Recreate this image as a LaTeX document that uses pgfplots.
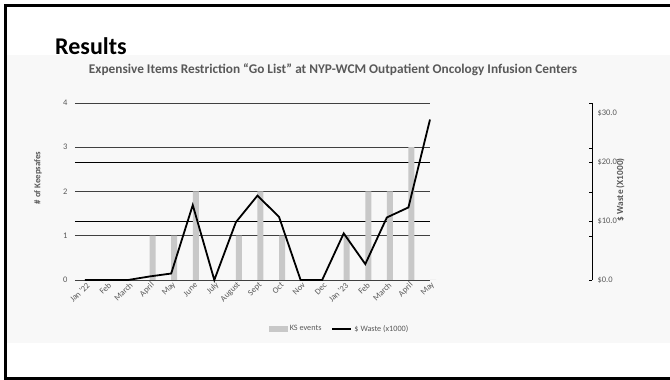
\documentclass[border=0pt]{standalone}
\usepackage{pgfplots}
\pgfplotsset{compat=1.18}
\usepackage{fontspec}
\setmainfont{Carlito}
\definecolor{barc}{HTML}{C8C8C8}
\definecolor{txt}{HTML}{595959}
\definecolor{grd}{HTML}{404040}
\definecolor{bgc}{HTML}{F8F8F8}
\begin{document}
\begin{tikzpicture}
\useasboundingbox (0pt,0pt) rectangle (670pt,380pt);
\fill[white] (0pt,0pt) rectangle (670pt,380pt);
\fill[bgc] (7pt,37pt) rectangle (670pt,325pt);
\draw[black, line width=3pt] (5.5pt,0pt) -- (5.5pt,374.5pt) -- (670pt,374.5pt);
\draw[black, line width=3pt] (4pt,1.5pt) -- (670pt,1.5pt);
\node[anchor=base west, font=\fontsize{24}{24}\selectfont\bfseries, inner sep=0pt] at (55pt,325pt) {Results};
\node[font=\fontsize{13.3}{14}\selectfont\bfseries, text=txt] at (333pt,310pt) {Expensive Items Restriction “Go List” at NYP-WCM Outpatient Oncology Infusion Centers};

\begin{axis}[at={(75pt,100pt)}, anchor=south west, scale only axis,
  width=355pt, height=177pt,
  xmin=-0.46, xmax=16, ymin=0, ymax=4,
  axis line style={draw=none},
  major tick length=0pt,
  xtick={0,...,16},
  xticklabels={Jan '22,Feb,March,April,May,June,July,August,Sept,Oct,Nov,Dec,Jan '23,Feb,March,April,May},
  xticklabel style={rotate=45, anchor=east, font=\fontsize{8.5}{9}\selectfont, text=txt, xshift=3pt, yshift=-5pt},
  ytick={0,1,2,3,4}, yticklabels={0,1,2,3,4},
  yticklabel style={font=\fontsize{8.5}{9}\selectfont, text=txt, xshift=-4pt},
  ymajorgrids, grid style={grd, line width=0.9pt},
  extra y ticks={1.33333,2.66667}, extra y tick labels={},
  extra y tick style={ymajorgrids=true, grid style={black, line width=0.8pt}},
  ylabel={\# of Keepsafes},
  ylabel style={at={(axis description cs:-0.104,0.576)}, anchor=center, rotate=0, font=\fontsize{8.8}{9}\selectfont\bfseries, text=txt},
  clip=false,
]
\addplot[ybar, bar width=6pt, bar shift=3pt, fill=barc, draw=none] coordinates {
(0,0) (1,0) (2,0) (3,1) (4,1) (5,2) (6,0) (7,1) (8,2) (9,1) (10,0) (11,0) (12,1) (13,2) (14,2) (15,3) (16,0)};
\end{axis}

\begin{axis}[at={(75pt,100pt)}, anchor=south west, scale only axis,
  width=355pt, height=177pt,
  xmin=-0.46, xmax=16, ymin=0, ymax=30,
  hide axis, clip=false,
  legend columns=2,
  legend style={at={(0.746,-0.277)}, anchor=center, draw=none, fill=none,
    font=\fontsize{8.2}{9}\selectfont, text=txt,
    /tikz/every even column/.append style={column sep=8pt}},
]
\addlegendimage{legend image code/.code={\fill[barc] (0pt,-2.5pt) rectangle (18pt,2.5pt);}}
\addlegendentry{KS events}
\addplot[black, line width=1.8pt, legend image code/.code={\draw[black, line width=2pt] (0pt,0pt) -- (19pt,0pt);}] coordinates {
(0,0) (1,0) (2,0) (3,0.6) (4,1.1) (5,12.7) (6,0) (7,9.8) (8,14.3) (9,10.7) (10,0) (11,0) (12,7.9) (13,2.7) (14,10.6) (15,12.3) (16,27.2)};
\addlegendentry{\$ Waste (x1000)}
\end{axis}

\begin{axis}[at={(75pt,100pt)}, anchor=south west, scale only axis,
  width=517pt, height=177pt,
  xmin=0, xmax=1, ymin=0, ymax=30,
  hide x axis,
  axis y line*=right,
  y axis line style={black, line width=1pt},
  tick align=inside, major tick length=3pt, minor tick length=3pt,
  tick style={black, line width=0.8pt},
  ytick={0,10,20}, yticklabels={\$0.0,\$10.0,\$20.0},
  minor ytick={7.46,14.92,22.37},
  yticklabel style={font=\fontsize{8.5}{9}\selectfont, text=txt, xshift=2pt},
  extra y ticks={30}, extra y tick labels={\$30.0},
  extra y tick style={yticklabel style={yshift=-10pt}},
  ylabel={\$ Waste (X1000)},
  ylabel style={at={(axis description cs:1.055,0.51)}, anchor=center, rotate=0, font=\fontsize{9.3}{10}\selectfont\bfseries, text=txt},
]
\addplot[draw=none] coordinates {(0,0) (1,30)};
\end{axis}
\end{tikzpicture}
\end{document}
